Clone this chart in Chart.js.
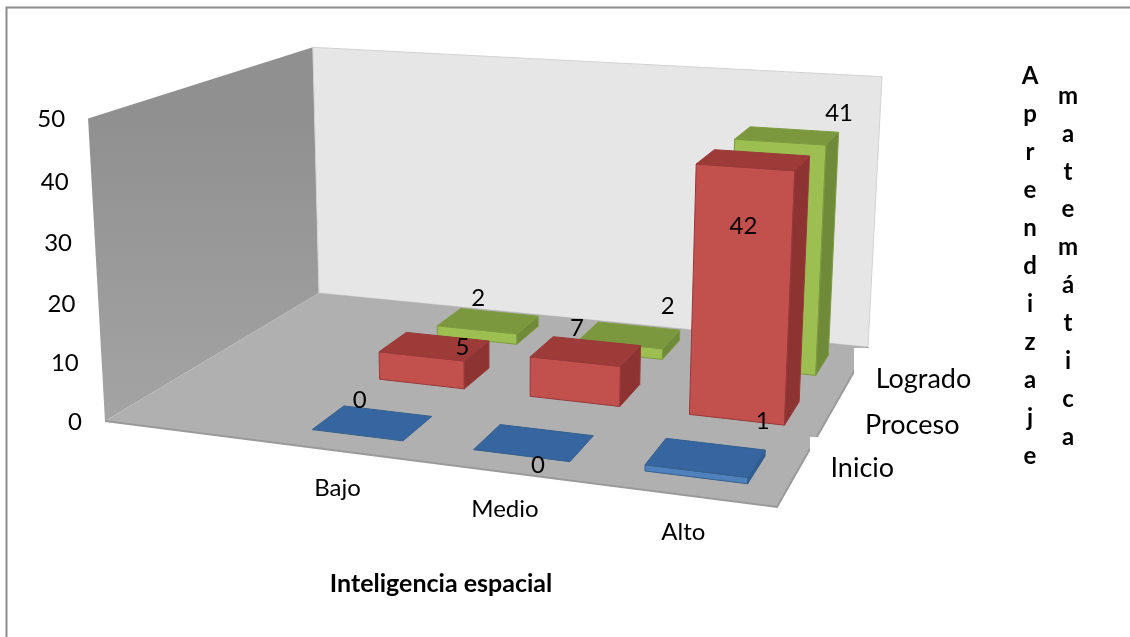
<!DOCTYPE html>
<html>
<head>
<meta charset="utf-8">
<style>
  html, body { margin: 0; padding: 0; background: #fff; }
  #wrap { width: 1130px; height: 637px; }
</style>
<script src="https://cdn.jsdelivr.net/npm/chart.js@4"></script>
</head>
<body>
<div id="wrap"><canvas id="grafica"></canvas></div>
<script>
const categorias = ['Bajo', 'Medio', 'Alto'];
const niveles = ['Inicio', 'Proceso', 'Logrado'];
const inicio = [0, 0, 1];
const proceso = [5, 7, 42];
const logrado = [2, 2, 41];
const ticks = [0, 10, 20, 30, 40, 50];
const tituloX = 'Inteligencia espacial';
const tituloZ = ['Aprendizaje', 'matemática'];

const fuente = 'Lato, Carlito, sans-serif';

// Camara: esquinas del piso (frente-izq, fondo-izq, fondo-der, frente-der)
// y punto de fuga de las verticales
const piso = [[105, 421], [319, 293], [868, 347], [777, 507]];
const fuga = [499, 7463];
const fugaPeso = -0.0412;

const anchoBarra = 0.57;
const fondoBarra = 0.45;

const colores = [
  { frente: '#4f81bd', tapa: '#37659f', lado: '#2f5c92', borde: '#33608f' },
  { frente: '#c2504c', tapa: '#9c3b38', lado: '#8d3432', borde: '#99393a' },
  { frente: '#9dbf52', tapa: '#7c983f', lado: '#6f8b39', borde: '#7f9c42' },
];

// Desplazamiento de cada etiqueta respecto al centro de la tapa de su barra
const despEtiquetas = [
  [[-13, -23], [4, 23], [57, -36]],
  [[28, 1], [-9, -23], [-10, 66]],
  [[-10, -23], [38, -29], [52, -22]],
];
const despNiveles = [[35, -6], [37, 8], [20, 11]];

// Homografia del cuadrado unitario al piso; devuelve tambien el denominador
function homografia(q) {
  const [[x0, y0], [x1, y1], [x2, y2], [x3, y3]] = q;
  const dx1 = x3 - x2, dx2 = x1 - x2, sx = x0 - x3 + x2 - x1;
  const dy1 = y3 - y2, dy2 = y1 - y2, sy = y0 - y3 + y2 - y1;
  const det = dx1 * dy2 - dx2 * dy1;
  const g = (sx * dy2 - dx2 * sy) / det;
  const h = (dx1 * sy - sx * dy1) / det;
  const a = x3 - x0 + g * x3, b = x1 - x0 + h * x1, c = x0;
  const d = y3 - y0 + g * y3, e = y1 - y0 + h * y1, f = y0;
  return (u, w) => {
    const k = g * u + h * w + 1;
    return [(a * u + b * w + c) / k, (d * u + e * w + f) / k, k];
  };
}
const hPiso = homografia(piso);

// u: a lo ancho, w: en profundidad, t: altura relativa (0 piso, 1 techo)
function proyectar(u, w, t) {
  const [px, py, k] = hPiso(u, w);
  const i = fugaPeso * t;
  return [(px * k + fuga[0] * i) / (k + i), (py * k + fuga[1] * i) / (k + i)];
}

function alturaRel(chart, v) {
  const y = chart.scales.y;
  return (y.getPixelForValue(v) - y.bottom) / (y.top - y.bottom);
}
function uCategoria(chart, i) {
  const x = chart.scales.x;
  return (x.getPixelForValue(i + 1) - x.left) / x.width;
}
function wNivel(chart, s) {
  const z = chart.scales.z;
  return (z.getPixelForValue(s) - z.left) / z.width;
}
function mitadCelda(chart) {
  const x = chart.scales.x;
  return {
    u: (x.getPixelForValue(1) - x.getPixelForValue(0)) / x.width * anchoBarra / 2,
    w: 1 / niveles.length * fondoBarra / 2,
  };
}

function poligono(ctx, puntos, relleno, borde) {
  ctx.beginPath();
  puntos.forEach((p, i) => (i ? ctx.lineTo(p[0], p[1]) : ctx.moveTo(p[0], p[1])));
  ctx.closePath();
  ctx.fillStyle = relleno;
  ctx.fill();
  if (borde) {
    ctx.strokeStyle = borde;
    ctx.lineWidth = 1;
    ctx.stroke();
  }
}

// Barras con frente, lado derecho y tapa
class Barra3D extends Chart.BarController {
  draw() {
    const chart = this.chart;
    const ctx = chart.ctx;
    const s = this.index;
    const c = colores[s];
    const m = mitadCelda(chart);
    const w = wNivel(chart, s);
    this.getDataset().data.forEach((v, i) => {
      if (v === null) return;
      const u = uCategoria(chart, i - 1);
      const t = alturaRel(chart, v);
      const a = proyectar(u - m.u, w - m.w, 0);
      const b = proyectar(u + m.u, w - m.w, 0);
      const d = proyectar(u + m.u, w + m.w, 0);
      const at = proyectar(u - m.u, w - m.w, t);
      const bt = proyectar(u + m.u, w - m.w, t);
      const dt = proyectar(u + m.u, w + m.w, t);
      const et = proyectar(u - m.u, w + m.w, t);
      if (v > 0) {
        poligono(ctx, [a, b, bt, at], c.frente, c.borde);
        poligono(ctx, [b, d, dt, bt], c.lado, c.borde);
      }
      poligono(ctx, [at, bt, dt, et], c.tapa, c.borde);
    });
  }
}
Barra3D.id = 'barra3d';
Barra3D.defaults = Chart.BarController.defaults;
Chart.register(Barra3D);

const caja3D = {
  id: 'caja3D',
  beforeDatasetsDraw(chart) {
    const ctx = chart.ctx;
    const techo = [proyectar(0, 0, 1), proyectar(0, 1, 1), proyectar(1, 1, 1)];
    ctx.save();
    // marco exterior
    ctx.strokeStyle = '#8c8c8c';
    ctx.lineWidth = 2;
    ctx.beginPath();
    ctx.moveTo(6.5, 637);
    ctx.lineTo(6.5, 7.5);
    ctx.lineTo(1130, 7.5);
    ctx.stroke();
    // pared izquierda
    const grad = ctx.createLinearGradient(0, techo[0][1], 0, piso[0][1]);
    grad.addColorStop(0, '#909090');
    grad.addColorStop(1, '#a4a4a4');
    poligono(ctx, [piso[0], piso[1], techo[1], techo[0]], grad);
    // pared del fondo
    poligono(ctx, [piso[1], piso[2], techo[2], techo[1]], '#e6e6e6', '#d2d2d2');
    // piso
    poligono(ctx, piso, '#b0b0b0');
    ctx.strokeStyle = '#9a9a9a';
    ctx.lineWidth = 2;
    ctx.beginPath();
    ctx.moveTo(piso[0][0], piso[0][1]);
    ctx.lineTo(piso[3][0], piso[3][1]);
    ctx.lineTo(piso[2][0], piso[2][1]);
    ctx.stroke();
    ctx.restore();
  },
  afterDatasetsDraw(chart) {
    const ctx = chart.ctx;
    ctx.save();
    // cajas blancas de las etiquetas de profundidad sobre la esquina del piso
    ctx.fillStyle = '#fff';
    ctx.fillRect(854, 348, 60, 90);
    ctx.fillRect(810, 437, 100, 60);
    ctx.fillStyle = '#000';
    ctx.textBaseline = 'middle';

    // ticks del eje de valores, siguiendo el borde inclinado de la pared
    ctx.font = '24px ' + fuente;
    ctx.textAlign = 'right';
    ticks.forEach((v) => {
      const p = proyectar(0, 0, alturaRel(chart, v));
      ctx.fillText(String(v), p[0] - 23, p[1] + 1);
    });

    // categorias debajo del borde frontal
    ctx.textAlign = 'center';
    categorias.forEach((nombre, i) => {
      const p = proyectar(uCategoria(chart, i), 0, 0);
      ctx.fillText(nombre, p[0], p[1] + 37);
    });

    // niveles junto al borde derecho
    ctx.font = '27px ' + fuente;
    ctx.textAlign = 'left';
    niveles.forEach((nombre, s) => {
      const p = proyectar(1, wNivel(chart, s), 0);
      ctx.fillText(nombre, p[0] + despNiveles[s][0], p[1] + despNiveles[s][1]);
    });

    // valores
    ctx.font = '24px ' + fuente;
    ctx.textAlign = 'center';
    chart.data.datasets.forEach((ds, s) => {
      ds.data.forEach((v, i) => {
        if (v === null) return;
        const u = uCategoria(chart, i - 1);
        const p = proyectar(u, wNivel(chart, s), alturaRel(chart, v));
        const d = despEtiquetas[s][i - 1];
        ctx.fillText(String(v), p[0] + d[0], p[1] + d[1]);
      });
    });

    // titulos de los ejes
    ctx.font = 'bold 25px ' + fuente;
    ctx.fillText(tituloX, 441, 584);
    ctx.font = 'bold 24px ' + fuente;
    Array.from(tituloZ[0]).forEach((l, i) => ctx.fillText(l, 1030, 76 + i * 38));
    Array.from(tituloZ[1]).forEach((l, i) => ctx.fillText(l, 1068, 96 + i * 37.9));
    ctx.restore();
  },
};

new Chart(document.getElementById('grafica'), {
  type: 'barra3d',
  data: {
    // la primera columna va vacia
    labels: ['', ...categorias],
    datasets: [
      { label: niveles[0], data: [null, ...inicio], clip: false },
      { label: niveles[1], data: [null, ...proceso], clip: false },
      { label: niveles[2], data: [null, ...logrado], clip: false },
    ],
  },
  options: {
    responsive: true,
    maintainAspectRatio: false,
    animation: false,
    layout: { padding: { left: 105, right: 353, top: 117, bottom: 216 } },
    plugins: { legend: { display: false }, title: { display: false }, tooltip: { enabled: false } },
    scales: {
      x: { type: 'category', offset: true, display: false },
      y: { type: 'linear', min: 0, max: 50, display: false, ticks: { stepSize: 10 } },
      z: { type: 'category', axis: 'x', labels: niveles, offset: true, display: false },
    },
  },
  plugins: [caja3D],
});
</script>
</body>
</html>
